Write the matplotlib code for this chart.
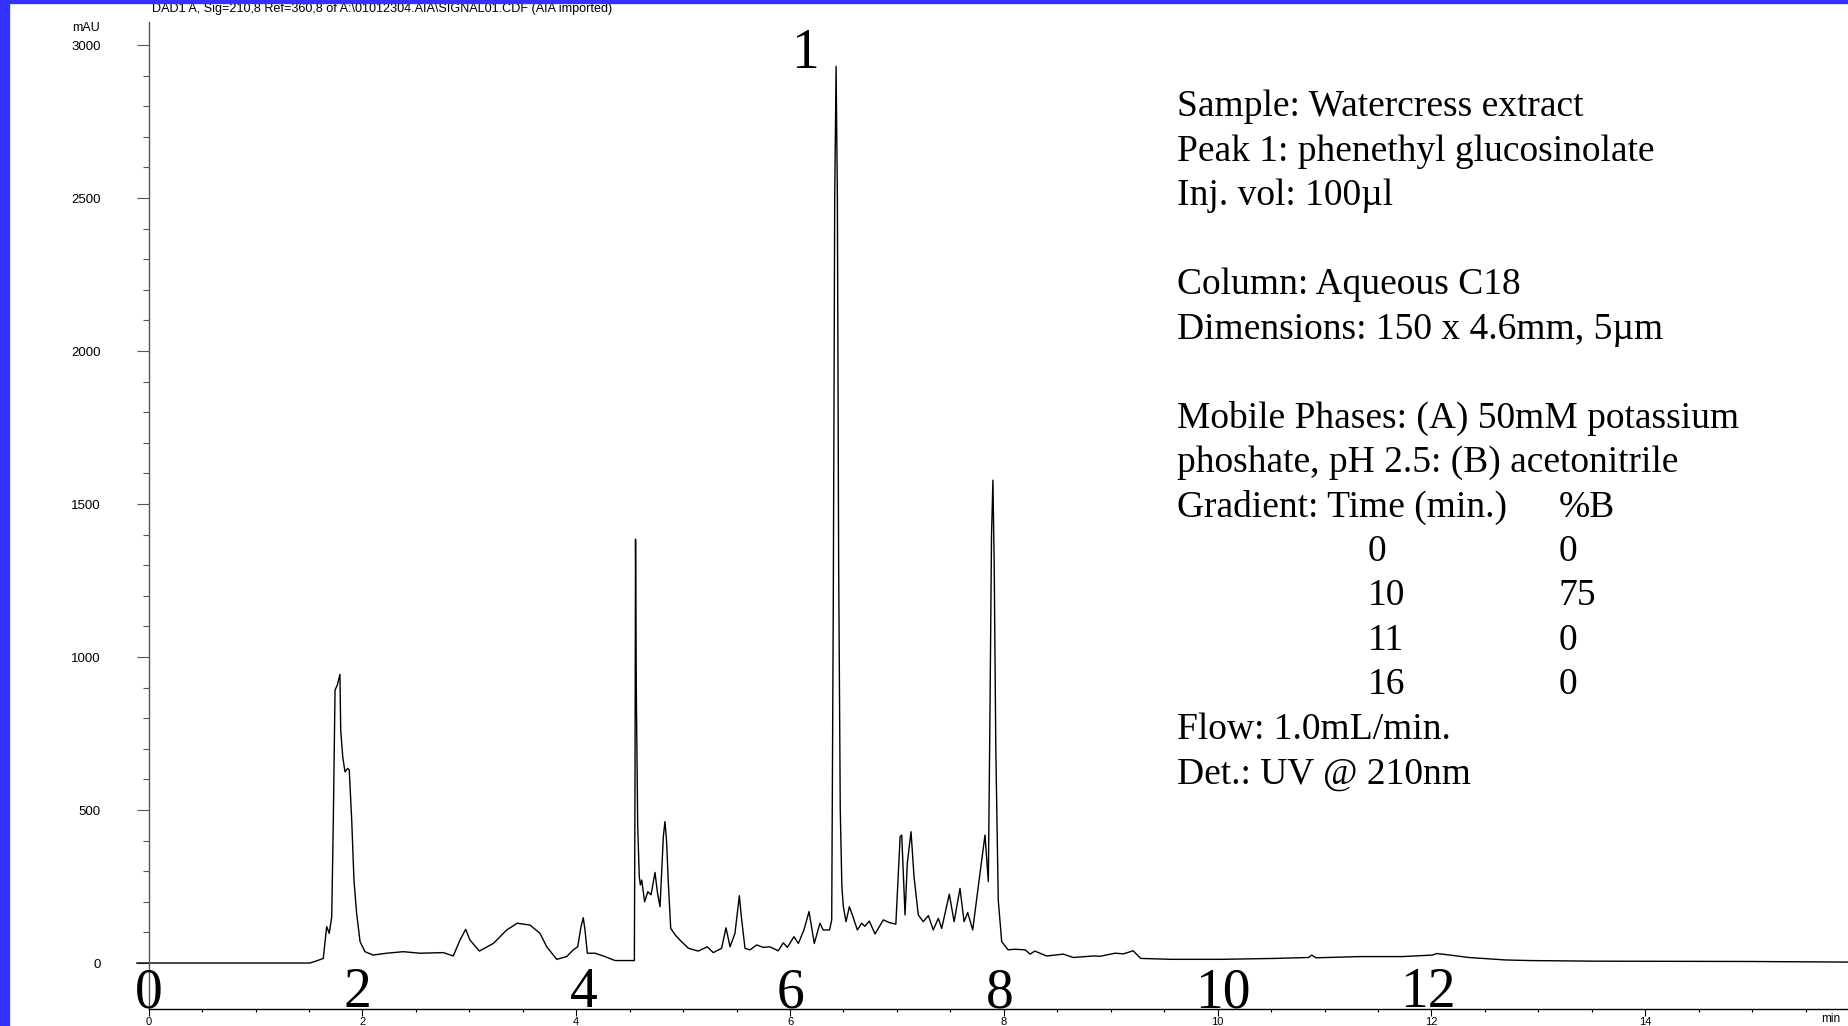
import matplotlib
matplotlib.use("Agg")
import matplotlib.pyplot as plt
from matplotlib.patches import Rectangle
from matplotlib.ticker import FixedLocator
import numpy as np

W, H = 1849, 1026

# chromatogram trace (time in min, signal in mAU)
time_min = [-0.11, 1.51, 1.58, 1.634, 1.666, 1.69, 1.713, 1.728, 1.744, 1.765,
            1.79, 1.797, 1.816, 1.837, 1.862, 1.877, 1.90, 1.921, 1.946, 1.978,
            2.024, 2.10, 2.227, 2.383, 2.539, 2.757, 2.85, 2.913, 2.966, 3.006,
            3.094, 3.225, 3.35, 3.449, 3.568, 3.661, 3.724, 3.818, 3.911, 3.973,
            4.014, 4.045, 4.066, 4.082, 4.104, 4.176, 4.269, 4.363, 4.544, 4.550,
            4.555, 4.562, 4.575, 4.59, 4.60, 4.613, 4.64, 4.67, 4.70, 4.737,
            4.76, 4.784, 4.815, 4.83, 4.845, 4.862, 4.884, 4.93, 4.97, 5.05,
            5.142, 5.226, 5.282, 5.36, 5.401, 5.439, 5.485, 5.526, 5.545, 5.579,
            5.626, 5.688, 5.75, 5.81, 5.89, 5.937, 5.975, 6.037, 6.078, 6.13,
            6.178, 6.227, 6.28, 6.31, 6.37, 6.39, 6.405, 6.418, 6.431, 6.443,
            6.455, 6.47, 6.485, 6.499, 6.524, 6.555, 6.59, 6.63, 6.67, 6.70,
            6.742, 6.795, 6.873, 6.93, 6.99, 7.03, 7.045, 7.076, 7.097, 7.132,
            7.16, 7.20, 7.247, 7.294, 7.34, 7.387, 7.419, 7.49, 7.535, 7.59,
            7.628, 7.662, 7.709, 7.771, 7.824, 7.855, 7.87, 7.885, 7.898, 7.91,
            7.925, 7.948, 7.98, 8.04, 8.10, 8.20, 8.245, 8.29, 8.40, 8.557,
            8.65, 8.73, 8.84, 8.90, 9.04, 9.12, 9.21, 9.28, 9.57, 10.03,
            10.54, 10.85, 10.88, 10.92, 11.33, 11.73, 12.01, 12.05, 12.15, 12.35,
            12.69, 12.92, 13.54, 14.95, 15.906]
signal_mau = [0, 0, 8, 15, 119, 97, 151, 467, 892, 908,
              943, 761, 674, 625, 636, 631, 467, 271, 162, 70,
              37, 26, 32, 37, 32, 34, 23, 75, 110, 75,
              39, 64, 108, 130, 124, 97, 53, 12, 21, 43,
              53, 119, 148, 108, 32, 32, 21, 8, 8, 600,
              1385, 900, 450, 282, 255, 271, 200, 233, 223, 296,
              230, 184, 413, 462, 400, 260, 113, 90, 75, 48,
              39, 53, 34, 48, 115, 53, 97, 220, 150, 48,
              43, 59, 51, 53, 40, 66, 51, 86, 64, 108,
              168, 64, 130, 108, 108, 141, 1200, 2500, 2930, 2500,
              1300, 500, 250, 184, 135, 184, 150, 108, 130, 120,
              137, 95, 141, 132, 127, 413, 418, 157, 326, 429,
              282, 157, 135, 155, 108, 146, 113, 225, 135, 244,
              135, 165, 108, 277, 418, 266, 800, 1400, 1578, 1300,
              700, 206, 70, 43, 45, 43, 29, 39, 23, 29,
              18, 20, 23, 22, 32, 30, 40, 15, 12, 12,
              15, 18, 26, 17, 21, 21, 26, 31, 27, 18,
              10, 8, 6, 5, 3]

y_ticks = [0, 500, 1000, 1500, 2000, 2500, 3000]
x_ticks = [0, 2, 4, 6, 8, 10, 12, 14]

big_labels = ["0", "2", "4", "6", "8", "10", "12"]
big_label_x = [0, 1.95, 4.07, 6.0, 7.96, 10.05, 11.97]

header = r"DAD1 A, Sig=210,8 Ref=360,8 of A:\01012304.AIA\SIGNAL01.CDF (AIA imported)"
info_lines = ["Sample: Watercress extract",
              "Peak 1: phenethyl glucosinolate",
              "Inj. vol: 100\u00b5l",
              "",
              "Column: Aqueous C18",
              "Dimensions: 150 x 4.6mm, 5\u00b5m",
              "",
              "Mobile Phases: (A) 50mM potassium",
              "phoshate, pH 2.5: (B) acetonitrile",
              "Gradient: Time (min.)"]
grad_time = ["0", "10", "11", "16"]
grad_b = ["0", "75", "0", "0"]
tail_lines = ["Flow: 1.0mL/min.", "Det.: UV @ 210nm"]

serif = ["Liberation Serif", "DejaVu Serif"]
sans = ["Liberation Sans", "DejaVu Sans"]

fig = plt.figure(figsize=(W / 100, H / 100), dpi=100)
fig.patch.set_facecolor("white")

# axes placed in pixels: x0 at 148.6px, 106.9 px/min; y0 at 963px, 0.306 px/mAU
ax = fig.add_axes([135.77 / W, 1 - 1009 / H, 1 - 135.77 / W, (1009 - 22) / H])
ax.set_xlim(-0.12, 15.906)
ax.set_ylim(-150.3, 3075.2)
ax.patch.set_alpha(0)

ax.plot(time_min, signal_mau, color="black", lw=1.0, clip_on=False)

for s in ["top", "right"]:
    ax.spines[s].set_visible(False)
ax.spines["left"].set_position(("data", 0))
ax.spines["left"].set_color("#555555")
ax.spines["left"].set_linewidth(1.0)
ax.spines["bottom"].set_bounds(0, 15.906)
ax.spines["bottom"].set_linewidth(1.0)

ax.set_yticks(y_ticks)
ax.yaxis.set_minor_locator(FixedLocator(np.arange(100, 3000, 100)))
ax.set_xticks(x_ticks)
ax.xaxis.set_minor_locator(FixedLocator(np.arange(0.5, 15.6, 0.5)))
ax.tick_params(axis="y", which="major", length=8.4, width=0.8, color="#555555",
               pad=26, labelsize=9.5)
ax.tick_params(axis="y", which="minor", length=4.3, width=0.8, color="#555555")
ax.tick_params(axis="x", which="major", length=5, width=0.8, pad=0.5, labelsize=8)
ax.tick_params(axis="x", which="minor", length=2, width=0.8)
for lab in ax.get_xticklabels() + ax.get_yticklabels():
    lab.set_family(sans)

# big serif annotations
for s, x in zip(big_labels, big_label_x):
    ax.text(x, -145, s, ha="center", va="baseline", fontsize=40, family=serif,
            clip_on=False)
ax.text(6.14, 2925, "1", ha="center", va="baseline", fontsize=40, family=serif)


def fx(px):
    return px / W


def fy(px):
    return 1 - px / H


fig.text(fx(152), fy(9.4), header, ha="left", va="center", fontsize=9.1, family=sans)
fig.text(fx(86), fy(28), "mAU", ha="center", va="center", fontsize=9, family=sans)
fig.text(fx(1831), fy(1019), "min", ha="center", va="center", fontsize=8.5, family=sans)

# info block on the right
x_txt, base0, step = 1177, 116.5, 44.45
fs = 27
for i, line in enumerate(info_lines):
    fig.text(fx(x_txt), fy(base0 + i * step), line, ha="left", va="baseline",
             fontsize=fs, family=serif)
fig.text(fx(1559), fy(base0 + 9 * step), "%B", ha="left", va="baseline",
         fontsize=fs, family=serif)
for j, (tm, b) in enumerate(zip(grad_time, grad_b)):
    yb = fy(base0 + (10 + j) * step)
    fig.text(fx(1368), yb, tm, ha="left", va="baseline", fontsize=fs, family=serif)
    fig.text(fx(1559), yb, b, ha="left", va="baseline", fontsize=fs, family=serif)
for k, line in enumerate(tail_lines):
    fig.text(fx(x_txt), fy(base0 + (14 + k) * step), line, ha="left", va="baseline",
             fontsize=fs, family=serif)

# blue frame strips
fig.patches.append(Rectangle((0, 1 - 3 / H), 1, 3 / H, transform=fig.transFigure,
                             color="#3333ff", zorder=10))
fig.patches.append(Rectangle((0, 0), 9 / W, 1, transform=fig.transFigure,
                             color="#3333ff", zorder=10))

fig.savefig("out.png", dpi=100)
